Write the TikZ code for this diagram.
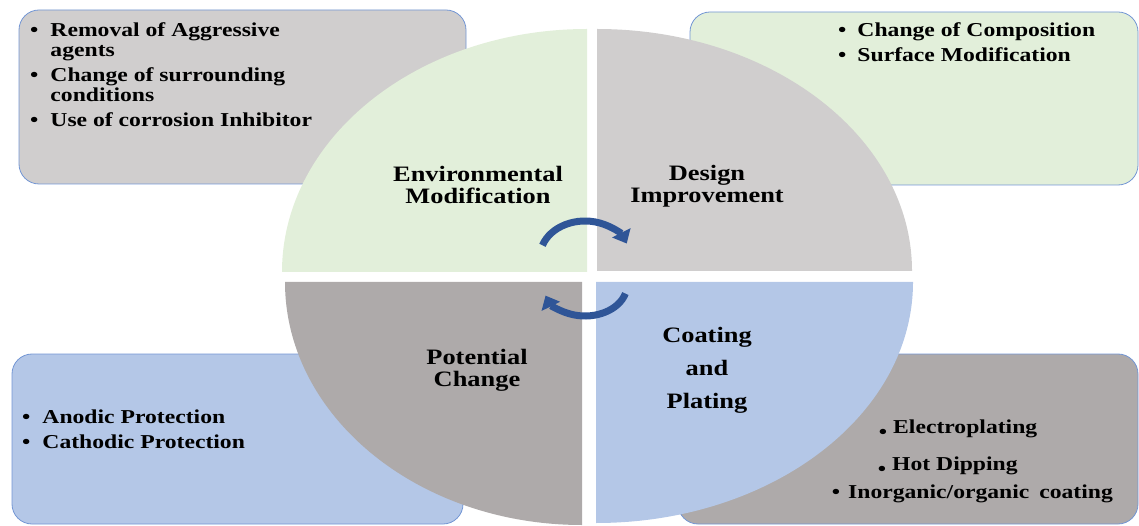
\documentclass[tikz,border=0pt]{standalone}
\usepackage{fontspec}
\setmainfont{Liberation Serif}[FakeStretch=1.2]
\usetikzlibrary{arrows.meta}

\definecolor{quadgreen}{HTML}{E2EFDA}
\definecolor{quadgray}{HTML}{D0CECE}
\definecolor{quaddark}{HTML}{AEAAAA}
\definecolor{quadblue}{HTML}{B4C7E7}
\definecolor{boxedge}{HTML}{7396D4}
\definecolor{arrowblue}{HTML}{2F5597}

\tikzset{
  box/.style={draw=boxedge, line width=0.8pt, rounded corners=20pt},
  bullets/.style={anchor=base west, inner sep=0pt, font=\bfseries\fontsize{19.7}{20}\selectfont},
  quadlabel/.style={anchor=base, align=center, inner sep=0pt, font=\bfseries\fontsize{22}{22}\selectfont},
  cyclearrow/.style={draw=arrowblue, line width=7pt, -{Triangle[width=20pt,length=12pt]}}
}

\begin{document}
\begin{tikzpicture}[x=1pt,y=1pt]
  \useasboundingbox (0,0) rectangle (1139,525);

  % side boxes
  \draw[box, fill=quadgray] (19,341) rectangle (466,515);
  \draw[box, fill=quadgreen] (690,340) rectangle (1138,513);
  \draw[box, fill=quadblue] (12,1) rectangle (463,171);
  \draw[box, fill=quaddark] (678,1) rectangle (1138,171);

  % four quarters of the ellipse
  \fill[quadgreen] (587,253) -- (282,253) arc[start angle=180, end angle=90, x radius=305, y radius=243] -- cycle;
  \fill[quadgray] (597,254) -- (597,496) arc[start angle=90, end angle=0, x radius=315, y radius=242] -- cycle;
  \fill[quaddark] (582,243) -- (285,243) arc[start angle=180, end angle=270, x radius=297, y radius=243] -- cycle;
  \fill[quadblue] (596,243) -- (913,243) arc[start angle=0, end angle=-90, x radius=317, y radius=241] -- cycle;

  \node[bullets] (envlist) at (30,488) {\begin{tabular}[t]{@{}l@{\hspace{12pt}}l@{}}
    \textbullet & Removal of Aggressive\\
                & agents\\[5pt]
    \textbullet & Change of surrounding\\
                & conditions\\[5pt]
    \textbullet & Use of corrosion Inhibitor
  \end{tabular}};
  \node[bullets] (designlist) at (838,488) {\begin{tabular}[t]{@{}l@{\hspace{11pt}}l@{}}
    \textbullet & Change of Composition\\[5pt]
    \textbullet & Surface Modification
  \end{tabular}};
  \node[bullets] (potlist) at (22,102) {\begin{tabular}[t]{@{}l@{\hspace{12pt}}l@{}}
    \textbullet & Anodic Protection\\[5pt]
    \textbullet & Cathodic Protection
  \end{tabular}};
  \node[bullets] (elec) at (893,92) {\llap{\raisebox{-0.6ex}{\textbullet}\hspace{6pt}}Electroplating};
  \node[bullets] (hot) at (892,55) {\llap{\raisebox{-0.6ex}{\textbullet}\hspace{6pt}}Hot Dipping};
  \node[bullets] (inorg) at (848,27) {\llap{\textbullet\hspace{8pt}}Inorganic/organic\hspace{4pt} coating};

  \node[quadlabel] (env) at (478,321) {Environmental\\Modification};
  \node[quadlabel] (design) at (707,322) {Design\\Improvement};
  \node[quadlabel] (potential) at (477,139) {Potential\\Change};
  \node[quadlabel] (coating) at (707,117) {Coating\\[11pt]and\\[11pt]Plating};

  \coordinate (hub) at (585,268);
  \coordinate (hubl) at (585,240);
  \draw[cyclearrow] (hub) ++(161:45 and 36) arc[start angle=161, end angle=22, x radius=45, y radius=36];
  \draw[cyclearrow] (hubl) ++(-16:42 and 31) arc[start angle=-16, end angle=-160, x radius=42, y radius=31];
\end{tikzpicture}
\end{document}
